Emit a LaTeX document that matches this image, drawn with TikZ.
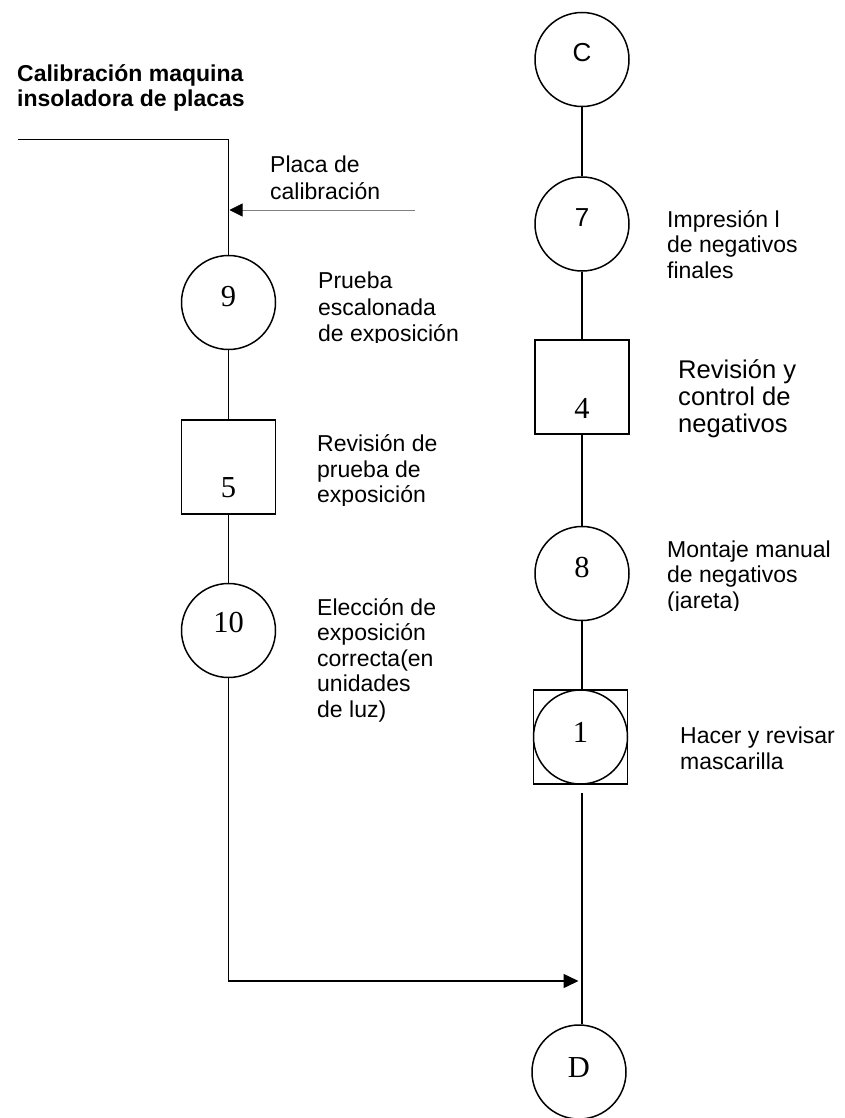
\documentclass[tikz,border=0pt]{standalone}
\usepackage{fontspec}
\setmainfont{Liberation Serif}
\setsansfont{Liberation Sans}
\usetikzlibrary{arrows.meta}
\begin{document}
\begin{tikzpicture}[x=1pt,y=-1pt,
  opcircle/.style={draw, circle, minimum size=94pt, inner sep=0pt, line width=1.5pt},
  inspbox/.style={draw, rectangle, minimum size=94pt, inner sep=0pt, line width=1.5pt},
  num/.style={font=\fontsize{30.5}{30.5}\selectfont, inner sep=0pt},
  numsf/.style={font=\sffamily\fontsize{26}{26}\selectfont, inner sep=0pt},
  lbl/.style={font=\sffamily\fontsize{23}{25.5}\selectfont, inner sep=0pt, anchor=north west, align=left},
  lblloose/.style={font=\sffamily\fontsize{23}{26.5}\selectfont, inner sep=0pt, anchor=north west, align=left},
  lblbig/.style={font=\sffamily\fontsize{25.6}{25.5}\selectfont, inner sep=0pt, anchor=north west, align=left},
  heading/.style={font=\sffamily\bfseries\fontsize{23}{23.3}\selectfont, inner sep=0pt, anchor=north west, align=left},
  flow/.style={draw, line width=1.5pt},
  feed/.style={draw=gray, line width=0.8pt, -{Triangle[length=13pt,width=13pt,black]}},
  joinarrow/.style={flow, -{Triangle[length=15pt,width=14pt]}},
]
\useasboundingbox[fill=white] (0,0) rectangle (844,1118);

% heading
\node[heading] (title) at (17,64.4) {\strut Calibración maquina\\\strut insoladora de placas};

% left column: plate calibration
\node[opcircle] (c9) at (228.5,302.5) {};
\node[num] (t9) at (228.5,297) {9};
\node[inspbox] (b5) at (228.5,467) {};
\node[num] (t5) at (228.5,487.5) {5};
\node[opcircle] (c10) at (228.5,630.5) {};
\node[num] (t10) at (228.5,623) {10};

% right column: negatives
\node[opcircle] (cC) at (582,59.5) {};
\node[numsf] (tC) at (582,52.5) {C};
\node[opcircle] (c7) at (582,224) {};
\node[numsf] (t7) at (582,218) {7};
\node[inspbox] (b4) at (582,387) {};
\node[num] (t4) at (582,408) {4};
\node[opcircle] (c8) at (582,573.5) {};
\node[num] (t8) at (582,567.5) {8};
\node[inspbox] (b1) at (580.5,737) {};
\node[opcircle] (c1) at (580.5,737) {};
\node[num] (t1) at (580.5,732) {1};
\node[opcircle] (cD) at (579,1072) {};
\node[num] (tD) at (579,1067.5) {D};

% descriptions
\node[lblloose] (lplaca) at (270,154.15) {\strut Placa de\\\strut calibración};
\begin{scope}
  \clip (300,250) rectangle (480,342.5);
  \node[lblloose] (l9) at (318,269.75) {\strut Prueba\\\strut escalonada\\\strut de exposición};
\end{scope}
\begin{scope}
  \clip (300,420) rectangle (480,505);
  \node[lbl] (l5) at (317,433.85) {\strut Revisión de\\\strut prueba de\\\strut exposición};
\end{scope}
\node[lbl] (l10) at (317,597.15) {\strut Elección de\\\strut exposición\\\strut correcta(en\\\strut unidades\\\strut de luz)};
\node[lbl] (l7) at (667,209.15) {\strut Impresión l\\\strut de negativos\\\strut finales};
\node[lblbig] (l4) at (678,359.15) {\strut Revisión y\\\strut control de\\\strut negativos};
\begin{scope}
  \clip (650,520) rectangle (844,610);
  \node[lbl] (l8) at (667,539.15) {\strut Montaje manual\\\strut de negativos\\\strut (jareta)};
\end{scope}
\node[lblloose] (l1) at (680,724.45) {\strut Hacer y revisar\\\strut mascarilla};

% connectors, left column
\coordinate (entry) at (17.5,139.5);
\draw[flow] (entry) -| (c9.north);
\coordinate (plate) at (415,210);
\coordinate (platein) at (229.5,210);
\draw[feed] (plate) -- (platein);
\draw[flow] (c9.south) -- (b5.north);
\draw[flow] (b5.south) -- (c10.north);
\coordinate (merge) at (582,981);
\draw[joinarrow, shorten >=3.5pt] (c10.south) |- (merge);

% connectors, right column
\draw[flow] (cC.south) -- (c7.north);
\draw[flow] (c7.south) -- (b4.north);
\draw[flow] (b4.south) -- (c8.north);
\draw[flow] (c8.south) -- (c8.south |- b1.north);
\draw[flow, shorten <=8pt] (b1.south -| c8.south) -- (cD.north -| c8.south);
\end{tikzpicture}
\end{document}
